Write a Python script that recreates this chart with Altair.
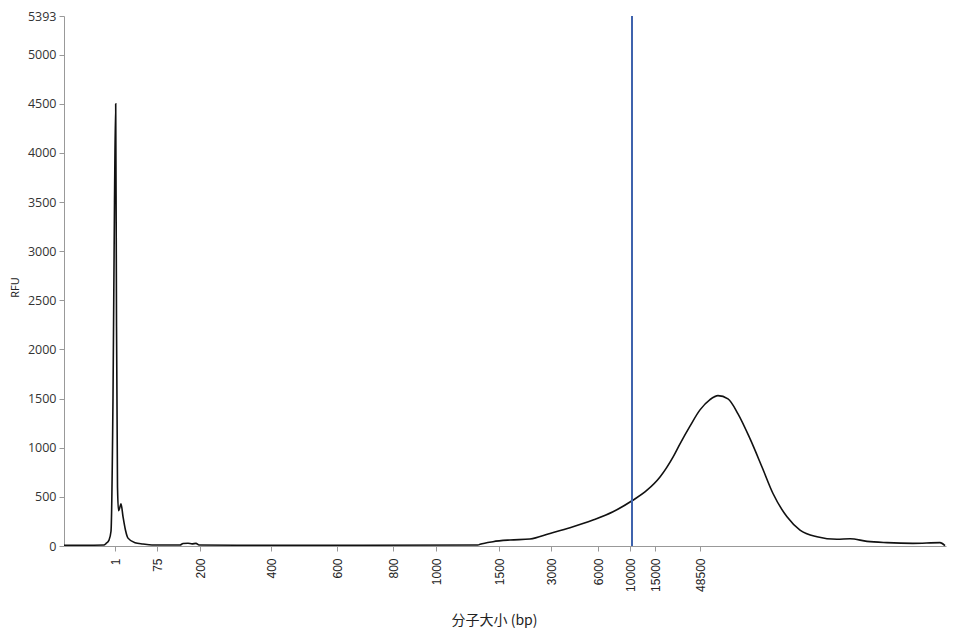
import altair as alt
import pandas as pd

# Migration position (arbitrary run units) and signal (RFU)
pos = [0.0, 2.0, 4.0, 4.2, 4.5, 4.7, 4.9, 5.05, 5.17, 5.25, 5.35, 5.45, 5.55, 5.7, 5.9,
       6.15, 6.4, 7.1, 7.9, 8.8, 11.6, 11.9, 12.4, 12.8, 13.2, 13.5, 20.0, 30.0, 41.4,
       41.6, 42.9, 44.6, 46.6, 48.6, 50.6, 52.9, 54.9, 56.8, 58.3, 59.6, 60.9, 61.6,
       62.6, 63.6, 64.6, 65.4, 66.4, 67.4, 68.6, 69.8, 70.9, 72.3, 73.6, 75.3, 77.3,
       78.6, 80.3, 82.3, 84.9, 87.6, 88.1]
rfu = [8, 8, 10, 25, 60, 150, 1500, 3500, 4500, 2300, 600, 360, 380, 430, 300,
       160, 80, 33, 20, 10, 10, 25, 28, 22, 27, 10, 8, 8, 10,
       17, 44, 61, 71, 128, 186, 264, 348, 460, 568, 703, 905, 1040,
       1220, 1385, 1490, 1530, 1497, 1345, 1092, 804, 534, 297, 162, 94, 68,
       74, 47, 34, 27, 34, 3]

# Size-standard ladder: tick positions and their labels (bp)
tick_pos = [5.1, 9.3, 13.6, 20.7, 27.3, 32.9, 37.2, 43.5, 48.7, 53.4, 56.6, 59.1, 63.6]
tick_lab = ["1", "75", "200", "400", "600", "800", "1000", "1500", "3000", "6000",
            "10000", "15000", "48500"]

y_ticks = [0, 500, 1000, 1500, 2000, 2500, 3000, 3500, 4000, 4500, 5000, 5393]

marker_pos = [56.8]

df = pd.DataFrame({"pos": pos, "rfu": rfu})
mk = pd.DataFrame({"pos": marker_pos})

expr = "''"
for p, l in reversed(list(zip(tick_pos, tick_lab))):
    expr = f"datum.value == {p} ? '{l}' : ({expr})"

x_scale = alt.Scale(domain=[0, 88.2], nice=False, zero=False)

line = alt.Chart(df).mark_line(color="#111111", strokeWidth=1.6,
                               interpolate="monotone").encode(
    x=alt.X("pos:Q", scale=x_scale,
            axis=alt.Axis(values=tick_pos, labelExpr=expr, labelAngle=270,
                          title="分子大小 (bp)", titleFont="Noto Sans CJK SC",
                          titleFontSize=14, titleFontWeight="normal",
                          titleColor="#222222", titleX=430, titleY=74,
                          titleBaseline="middle", titleAnchor="start",
                          titleAlign="center",
                          labelFont="Liberation Sans", labelFontSize=12,
                          labelColor="#222222", labelPadding=7,
                          tickSize=5, tickColor="#999999",
                          domainColor="#999999", grid=False, labelOverlap=False)),
    y=alt.Y("rfu:Q", scale=alt.Scale(domain=[0, 5393], nice=False),
            axis=alt.Axis(values=y_ticks, format="d", title="RFU",
                          titleFont="Open Sans",
                          titleFontSize=11, titleFontWeight="normal",
                          titleColor="#222222", titleX=-49, titleY=271,
                          titleAngle=270, titleBaseline="middle", titleAlign="center",
                          labelFont="Open Sans", labelFontSize=12.5,
                          labelColor="#333333", labelPadding=3,
                          tickSize=5, tickColor="#999999",
                          domainColor="#999999", grid=False)),
)

rule = alt.Chart(mk).mark_rule(color="#3f63ad", strokeWidth=2).encode(
    x=alt.X("pos:Q", scale=x_scale)
)

chart = (line + rule).properties(
    width=882, height=530,
    autosize=alt.AutoSizeParams(type="none"),
    padding={"left": 56, "top": 8, "right": 2, "bottom": 82},
).configure_view(stroke=None)

chart.save("out.html", embed_options={"renderer": "svg", "actions": False})
